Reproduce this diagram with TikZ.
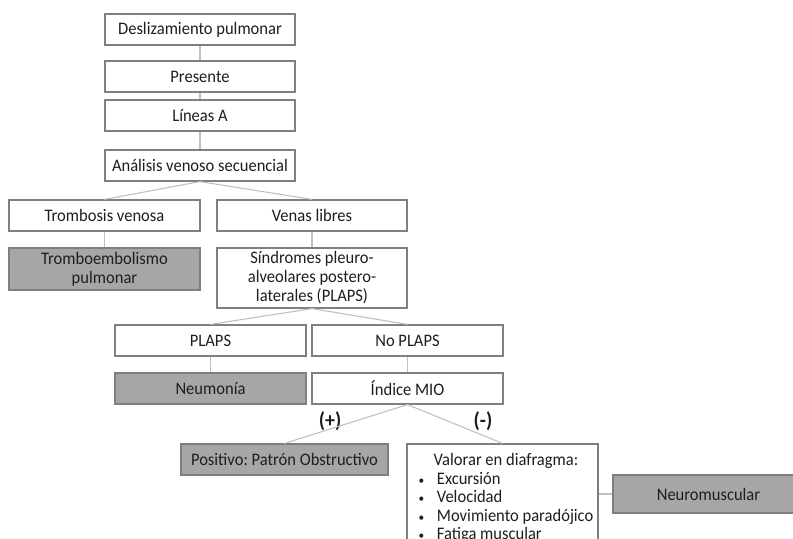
\documentclass[tikz,border=0pt]{standalone}
\usepackage{fontspec}
\setmainfont{Carlito}[FakeStretch=0.94]
\frenchspacing
\definecolor{bordergray}{HTML}{7F7F7F}
\definecolor{linkgray}{HTML}{C0C0C0}
\definecolor{fillgray}{HTML}{A6A6A6}
\definecolor{txt}{HTML}{1E1E1E}
\begin{document}
\begin{tikzpicture}[x=0.75pt,y=-0.75pt,
  box/.style={draw=bordergray,line width=0.9pt,fill=white,inner sep=0pt,
    minimum width=142.5pt,minimum height=23.25pt,align=center,text=txt,
    font=\fontsize{13.2}{14.2}\selectfont},
  shaded/.style={box,fill=fillgray},
  link/.style={draw=linkgray,line width=0.8pt},
  sign/.style={text=txt,font=\fontsize{16}{17}\selectfont\bfseries,inner sep=0pt}]
\clip (0,0) rectangle (793,539);
\fill[white] (0,0) rectangle (793,539);
\node[box] (d) at (200,29.5) {Deslizamiento pulmonar};
\node[box] (p) at (200,76.5) {Presente};
\node[box] (l) at (200,115.5) {Líneas A};
\node[box] (a) at (200,165.5) {Análisis venoso secuencial};
\node[box,minimum width=143.25pt] (tv) at (104.5,215.5) {Trombosis venosa};
\node[box] (vl) at (312,215.5) {Venas libres};
\node[shaded,minimum width=143.25pt,minimum height=31.5pt] (te) at (104.5,269) {Tromboembolismo\\pulmonar};
\node[box,minimum height=45pt] (s) at (312,278) {Síndromes pleuro-\\alveolares postero-\\laterales (PLAPS)};
\node[box,minimum width=143.25pt] (pl) at (210.5,340.5) {PLAPS};
\node[box,minimum width=143.25pt] (np) at (407.5,340.5) {No PLAPS};
\node[shaded,minimum width=143.25pt] (ne) at (210.5,388.5) {Neumonía};
\node[box,minimum width=143.25pt] (im) at (407.5,388.5) {Índice MIO};
\node[shaded,minimum width=155.25pt] (pos) at (284.5,459.5) {Positivo: Patrón Obstructivo};
\node[box,minimum width=143.25pt,minimum height=94.5pt] (val) at (502.5,507) {};
\node[anchor=north,inner sep=0pt,text=txt,font=\fontsize{13.2}{13.9}\selectfont] (valtxt) at (506,452.5)
  {\begin{tabular}{@{}l@{\hspace{9.5pt}}l@{}}
   \multicolumn{2}{@{}c@{}}{Valorar en diafragma:}\\
   {\small\textbullet} & Excursión\\
   {\small\textbullet} & Velocidad\\
   {\small\textbullet} & Movimiento paradójico\\
   {\small\textbullet} & Fatiga muscular
   \end{tabular}};
\node[shaded,minimum width=143.25pt,minimum height=28.5pt] (neu) at (708.5,494) {Neuromuscular};
\node[sign] (plus) at (330,421) {(+)};
\node[sign] (minus) at (483,421) {(-)};
\path[link] (d.south) -- (p.north);
\path[link] (p.south) -- (l.north);
\path[link] (l.south) -- (a.north);
\path[link] (a.south) -- (tv.north);
\path[link] (a.south) -- (vl.north);
\path[link] (tv.south) -- (te.north);
\path[link] (vl.south) -- (s.north);
\path[link] (s.south) -- (pl.north);
\path[link] (s.south) -- (np.north);
\path[link] (pl.south) -- (ne.north);
\path[link] (np.south) -- (im.north);
\path[link] (im.south) -- (pos.north);
\path[link] (im.south) -- (val.north);
\path[link] (val.east |- neu.west) -- (neu.west);
\end{tikzpicture}
\end{document}
